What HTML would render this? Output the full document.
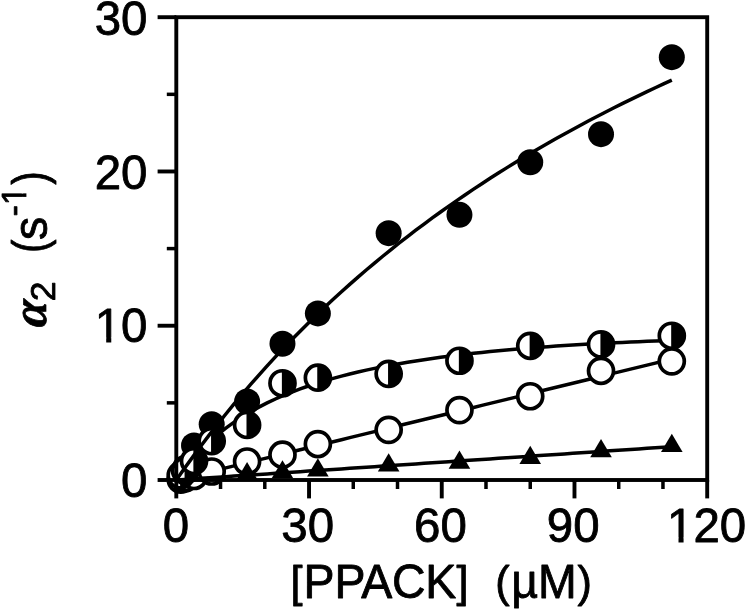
<!DOCTYPE html>
<html lang="en"><head><meta charset="utf-8"><title>PPACK plot</title>
<style>html,body{margin:0;padding:0;background:#fff;}body{width:745px;height:609px;overflow:hidden;}svg{display:block;}</style>
</head><body>
<svg width="745" height="609" viewBox="0 0 745 609">
<rect width="745" height="609" fill="#fff"/>
<defs><filter id="soft" filterUnits="userSpaceOnUse" x="-10" y="-10" width="765" height="629"><feGaussianBlur stdDeviation="0.5"/></filter></defs>
<g filter="url(#soft)">
<rect x="-10" y="-10" width="765" height="629" fill="#fff"/>
<polyline fill="none" stroke="#000" stroke-width="3.5" points="176.30,480.00 184.56,477.98 192.82,475.97 201.08,473.95 209.33,471.94 217.59,469.92 225.85,467.91 234.11,465.89 242.37,463.87 250.63,461.86 258.88,459.84 267.14,457.83 275.40,455.81 283.66,453.80 291.92,451.78 300.18,449.76 308.44,447.75 316.69,445.73 324.95,443.72 333.21,441.70 341.47,439.68 349.73,437.67 357.99,435.65 366.24,433.64 374.50,431.62 382.76,429.61 391.02,427.59 399.28,425.57 407.54,423.56 415.79,421.54 424.05,419.53 432.31,417.51 440.57,415.50 448.83,413.48 457.09,411.46 465.35,409.45 473.60,407.43 481.86,405.42 490.12,403.40 498.38,401.39 506.64,399.37 514.90,397.35 523.15,395.34 531.41,393.32 539.67,391.31 547.93,389.29 556.19,387.28 564.45,385.26 572.71,383.24 580.96,381.23 589.22,379.21 597.48,377.20 605.74,375.18 614.00,373.17 622.26,371.15 630.51,369.13 638.77,367.12 647.03,365.10 655.29,363.09 663.55,361.07 671.81,359.05"/>
<circle cx="180.72" cy="479.54" r="12.5" fill="#fff" stroke="#000" stroke-width="3.7"/>
<circle cx="185.15" cy="478.46" r="12.5" fill="#fff" stroke="#000" stroke-width="3.7"/>
<circle cx="194.00" cy="475.99" r="12.5" fill="#fff" stroke="#000" stroke-width="3.7"/>
<circle cx="211.69" cy="471.52" r="12.5" fill="#fff" stroke="#000" stroke-width="3.7"/>
<circle cx="247.09" cy="461.49" r="12.5" fill="#fff" stroke="#000" stroke-width="3.7"/>
<circle cx="282.48" cy="454.70" r="12.5" fill="#fff" stroke="#000" stroke-width="3.7"/>
<circle cx="317.87" cy="444.06" r="12.5" fill="#fff" stroke="#000" stroke-width="3.7"/>
<circle cx="388.66" cy="429.86" r="12.5" fill="#fff" stroke="#000" stroke-width="3.7"/>
<circle cx="459.45" cy="410.12" r="12.5" fill="#fff" stroke="#000" stroke-width="3.7"/>
<circle cx="530.23" cy="396.23" r="12.5" fill="#fff" stroke="#000" stroke-width="3.7"/>
<circle cx="601.02" cy="370.78" r="12.5" fill="#fff" stroke="#000" stroke-width="3.7"/>
<circle cx="671.81" cy="361.37" r="12.5" fill="#fff" stroke="#000" stroke-width="3.7"/>
<polyline fill="none" stroke="#000" stroke-width="3.5" points="176.30,480.00 184.56,468.75 192.82,458.77 201.08,449.86 209.33,441.86 217.59,434.64 225.85,428.10 234.11,422.15 242.37,416.71 250.63,411.73 258.88,407.15 267.14,402.93 275.40,399.02 283.66,395.41 291.92,392.05 300.18,388.92 308.44,386.00 316.69,383.28 324.95,380.73 333.21,378.34 341.47,376.10 349.73,373.99 357.99,372.01 366.24,370.14 374.50,368.38 382.76,366.71 391.02,365.14 399.28,363.66 407.54,362.25 415.79,360.92 424.05,359.65 432.31,358.45 440.57,357.31 448.83,356.23 457.09,355.20 465.35,354.23 473.60,353.30 481.86,352.41 490.12,351.57 498.38,350.77 506.64,350.00 514.90,349.28 523.15,348.58 531.41,347.92 539.67,347.29 547.93,346.69 556.19,346.11 564.45,345.57 572.71,345.04 580.96,344.55 589.22,344.07 597.48,343.62 605.74,343.19 614.00,342.78 622.26,342.38 630.51,342.01 638.77,341.65 647.03,341.31 655.29,340.99 663.55,340.68 671.81,340.39"/>
<circle cx="180.72" cy="473.83" r="13" fill="#000"/>
<circle cx="185.15" cy="467.66" r="13" fill="#000"/>
<circle cx="194.00" cy="445.44" r="13" fill="#000"/>
<circle cx="211.69" cy="424.16" r="13" fill="#000"/>
<circle cx="247.09" cy="401.48" r="13" fill="#000"/>
<circle cx="282.48" cy="343.78" r="13" fill="#000"/>
<circle cx="317.87" cy="313.39" r="13" fill="#000"/>
<circle cx="388.66" cy="233.17" r="13" fill="#000"/>
<circle cx="459.45" cy="214.82" r="13" fill="#000"/>
<circle cx="530.23" cy="162.21" r="13" fill="#000"/>
<circle cx="601.02" cy="134.13" r="13" fill="#000"/>
<circle cx="671.81" cy="57.16" r="13" fill="#000"/>
<circle cx="180.72" cy="475.37" r="12.5" fill="#fff"/>
<path d="M180.12,462.87 L180.72,462.87 A12.5,12.5 0 0 1 180.72,487.87 L180.12,487.87 Z" fill="#000"/>
<circle cx="180.72" cy="475.37" r="12.5" fill="none" stroke="#000" stroke-width="3.7"/>
<circle cx="185.15" cy="470.74" r="12.5" fill="#fff"/>
<path d="M184.55,458.24 L185.15,458.24 A12.5,12.5 0 0 1 185.15,483.24 L184.55,483.24 Z" fill="#000"/>
<circle cx="185.15" cy="470.74" r="12.5" fill="none" stroke="#000" stroke-width="3.7"/>
<circle cx="194.00" cy="461.03" r="12.5" fill="#fff"/>
<path d="M193.40,448.53 L194.00,448.53 A12.5,12.5 0 0 1 194.00,473.53 L193.40,473.53 Z" fill="#000"/>
<circle cx="194.00" cy="461.03" r="12.5" fill="none" stroke="#000" stroke-width="3.7"/>
<circle cx="211.69" cy="441.12" r="12.5" fill="#fff"/>
<path d="M211.09,428.62 L211.69,428.62 A12.5,12.5 0 0 1 211.69,453.62 L211.09,453.62 Z" fill="#000"/>
<circle cx="211.69" cy="441.12" r="12.5" fill="none" stroke="#000" stroke-width="3.7"/>
<circle cx="247.09" cy="424.93" r="12.5" fill="#fff"/>
<path d="M246.49,412.43 L247.09,412.43 A12.5,12.5 0 0 1 247.09,437.43 L246.49,437.43 Z" fill="#000"/>
<circle cx="247.09" cy="424.93" r="12.5" fill="none" stroke="#000" stroke-width="3.7"/>
<circle cx="282.48" cy="383.27" r="12.5" fill="#fff"/>
<path d="M281.88,370.77 L282.48,370.77 A12.5,12.5 0 0 1 282.48,395.77 L281.88,395.77 Z" fill="#000"/>
<circle cx="282.48" cy="383.27" r="12.5" fill="none" stroke="#000" stroke-width="3.7"/>
<circle cx="317.87" cy="377.72" r="12.5" fill="#fff"/>
<path d="M317.27,365.22 L317.87,365.22 A12.5,12.5 0 0 1 317.87,390.22 L317.27,390.22 Z" fill="#000"/>
<circle cx="317.87" cy="377.72" r="12.5" fill="none" stroke="#000" stroke-width="3.7"/>
<circle cx="388.66" cy="373.86" r="12.5" fill="#fff"/>
<path d="M388.06,361.36 L388.66,361.36 A12.5,12.5 0 0 1 388.66,386.36 L388.06,386.36 Z" fill="#000"/>
<circle cx="388.66" cy="373.86" r="12.5" fill="none" stroke="#000" stroke-width="3.7"/>
<circle cx="459.45" cy="360.75" r="12.5" fill="#fff"/>
<path d="M458.85,348.25 L459.45,348.25 A12.5,12.5 0 0 1 459.45,373.25 L458.85,373.25 Z" fill="#000"/>
<circle cx="459.45" cy="360.75" r="12.5" fill="none" stroke="#000" stroke-width="3.7"/>
<circle cx="530.23" cy="345.79" r="12.5" fill="#fff"/>
<path d="M529.63,333.29 L530.23,333.29 A12.5,12.5 0 0 1 530.23,358.29 L529.63,358.29 Z" fill="#000"/>
<circle cx="530.23" cy="345.79" r="12.5" fill="none" stroke="#000" stroke-width="3.7"/>
<circle cx="601.02" cy="344.40" r="12.5" fill="#fff"/>
<path d="M600.42,331.90 L601.02,331.90 A12.5,12.5 0 0 1 601.02,356.90 L600.42,356.90 Z" fill="#000"/>
<circle cx="601.02" cy="344.40" r="12.5" fill="none" stroke="#000" stroke-width="3.7"/>
<circle cx="671.81" cy="335.76" r="12.5" fill="#fff"/>
<path d="M671.21,323.26 L671.81,323.26 A12.5,12.5 0 0 1 671.81,348.26 L671.21,348.26 Z" fill="#000"/>
<circle cx="671.81" cy="335.76" r="12.5" fill="none" stroke="#000" stroke-width="3.7"/>
<polyline fill="none" stroke="#000" stroke-width="3.5" points="176.30,480.00 184.56,468.30 192.82,456.89 201.08,445.77 209.33,434.92 217.59,424.34 225.85,414.01 234.11,403.93 242.37,394.08 250.63,384.47 258.88,375.07 267.14,365.89 275.40,356.91 283.66,348.14 291.92,339.55 300.18,331.16 308.44,322.94 316.69,314.90 324.95,307.03 333.21,299.32 341.47,291.77 349.73,284.37 357.99,277.13 366.24,270.03 374.50,263.06 382.76,256.24 391.02,249.55 399.28,242.99 407.54,236.55 415.79,230.23 424.05,224.03 432.31,217.95 440.57,211.98 448.83,206.11 457.09,200.35 465.35,194.70 473.60,189.14 481.86,183.68 490.12,178.32 498.38,173.05 506.64,167.87 514.90,162.78 523.15,157.77 531.41,152.85 539.67,148.00 547.93,143.24 556.19,138.56 564.45,133.95 572.71,129.41 580.96,124.94 589.22,120.55 597.48,116.22 605.74,111.97 614.00,107.77 622.26,103.64 630.51,99.58 638.77,95.57 647.03,91.63 655.29,87.74 663.55,83.91 671.81,80.14"/>
<polyline fill="none" stroke="#000" stroke-width="3.5" points="176.30,480.00 184.56,479.44 192.82,478.89 201.08,478.33 209.33,477.78 217.59,477.22 225.85,476.67 234.11,476.11 242.37,475.55 250.63,475.00 258.88,474.44 267.14,473.89 275.40,473.33 283.66,472.77 291.92,472.22 300.18,471.66 308.44,471.11 316.69,470.55 324.95,470.00 333.21,469.44 341.47,468.88 349.73,468.33 357.99,467.77 366.24,467.22 374.50,466.66 382.76,466.11 391.02,465.55 399.28,464.99 407.54,464.44 415.79,463.88 424.05,463.33 432.31,462.77 440.57,462.22 448.83,461.66 457.09,461.10 465.35,460.55 473.60,459.99 481.86,459.44 490.12,458.88 498.38,458.32 506.64,457.77 514.90,457.21 523.15,456.66 531.41,456.10 539.67,455.55 547.93,454.99 556.19,454.43 564.45,453.88 572.71,453.32 580.96,452.77 589.22,452.21 597.48,451.66 605.74,451.10 614.00,450.54 622.26,449.99 630.51,449.43 638.77,448.88 647.03,448.32 655.29,447.77 663.55,447.21 671.81,446.65"/>
<polygon points="247.09,462.00 236.29,480.20 257.89,480.20" fill="#000"/>
<polygon points="282.48,460.15 271.68,478.35 293.28,478.35" fill="#000"/>
<polygon points="317.87,458.30 307.07,476.50 328.67,476.50" fill="#000"/>
<polygon points="388.66,453.21 377.86,471.41 399.46,471.41" fill="#000"/>
<polygon points="459.45,450.43 448.65,468.63 470.25,468.63" fill="#000"/>
<polygon points="530.23,445.81 519.43,464.01 541.03,464.01" fill="#000"/>
<polygon points="601.02,439.02 590.22,457.22 611.82,457.22" fill="#000"/>
<polygon points="671.81,433.77 661.01,451.97 682.61,451.97" fill="#000"/>
<rect x="176.3" y="17.2" width="530.9000000000001" height="462.8" fill="none" stroke="#000" stroke-width="3.9"/>
<line x1="157.6" x2="176.3" y1="480.00" y2="480.00" stroke="#000" stroke-width="3.9"/>
<line x1="166.8" x2="176.3" y1="402.87" y2="402.87" stroke="#000" stroke-width="3.5"/>
<line x1="157.6" x2="176.3" y1="325.73" y2="325.73" stroke="#000" stroke-width="3.9"/>
<line x1="166.8" x2="176.3" y1="248.60" y2="248.60" stroke="#000" stroke-width="3.5"/>
<line x1="157.6" x2="176.3" y1="171.47" y2="171.47" stroke="#000" stroke-width="3.9"/>
<line x1="166.8" x2="176.3" y1="94.33" y2="94.33" stroke="#000" stroke-width="3.5"/>
<line x1="157.6" x2="176.3" y1="17.20" y2="17.20" stroke="#000" stroke-width="3.9"/>
<line y1="480.0" y2="498.4" x1="176.30" x2="176.30" stroke="#000" stroke-width="3.9"/>
<line y1="480.0" y2="489" x1="220.54" x2="220.54" stroke="#000" stroke-width="3.5"/>
<line y1="480.0" y2="489" x1="264.78" x2="264.78" stroke="#000" stroke-width="3.5"/>
<line y1="480.0" y2="498.4" x1="309.03" x2="309.03" stroke="#000" stroke-width="3.9"/>
<line y1="480.0" y2="489" x1="353.27" x2="353.27" stroke="#000" stroke-width="3.5"/>
<line y1="480.0" y2="489" x1="397.51" x2="397.51" stroke="#000" stroke-width="3.5"/>
<line y1="480.0" y2="498.4" x1="441.75" x2="441.75" stroke="#000" stroke-width="3.9"/>
<line y1="480.0" y2="489" x1="485.99" x2="485.99" stroke="#000" stroke-width="3.5"/>
<line y1="480.0" y2="489" x1="530.23" x2="530.23" stroke="#000" stroke-width="3.5"/>
<line y1="480.0" y2="498.4" x1="574.48" x2="574.48" stroke="#000" stroke-width="3.9"/>
<line y1="480.0" y2="489" x1="618.72" x2="618.72" stroke="#000" stroke-width="3.5"/>
<line y1="480.0" y2="489" x1="662.96" x2="662.96" stroke="#000" stroke-width="3.5"/>
<line y1="480.0" y2="498.4" x1="707.20" x2="707.20" stroke="#000" stroke-width="3.9"/>
<g font-family="'Liberation Sans', Arial, Helvetica, sans-serif" font-size="46.5" fill="#000" stroke="#000" stroke-width="0.8" stroke-linejoin="round">
<text transform="translate(147.4,496.90) scale(1.02,1.045)" text-anchor="end">0</text>
<text transform="translate(147.4,342.33) scale(1.02,1.045)" text-anchor="end">10</text>
<text transform="translate(147.4,189.47) scale(1.02,1.045)" text-anchor="end">20</text>
<text transform="translate(147.4,34.70) scale(1.02,1.045)" text-anchor="end">30</text>
<text transform="translate(175.90,541.7) scale(1.02,1.045)" text-anchor="middle">0</text>
<text transform="translate(307.73,541.7) scale(1.02,1.045)" text-anchor="middle">30</text>
<text transform="translate(440.45,541.7) scale(1.02,1.045)" text-anchor="middle">60</text>
<text transform="translate(573.18,541.7) scale(1.02,1.045)" text-anchor="middle">90</text>
<text transform="translate(706.60,541.7) scale(1.02,1.045)" text-anchor="middle">120</text>
<text transform="translate(441,598) scale(1.0,1.045)" xml:space="preserve" x="-150.50 -137.60 -106.60 -79.68 -48.97 -15.69 15.60 28.80 41.70 54.30 70.15 96.93 136.50" dy="-1.05 1.05 0 0 0 0 -1.05 1.05 0 -1.05 1.05 0 -1.05"><tspan font-size="43.25">[</tspan>PPACK<tspan font-size="43.25">]</tspan>  <tspan font-size="43.25">(</tspan>µM<tspan font-size="43.25">)</tspan></text>
<text transform="translate(46.2,328.3) rotate(-90) scale(1.02,1.045) skewX(-7)" font-size="47" font-family="'Liberation Serif', 'DejaVu Serif', serif" font-weight="bold" font-style="italic" stroke-width="0.7">α</text>
<text transform="translate(55.4,301.2) rotate(-90) scale(1.08,1.045)" font-size="33" >2</text>
<text transform="translate(46.3,252.9) rotate(-90) scale(0.87,1.045)" font-size="46.5" >(</text>
<text transform="translate(47.0,240.0) rotate(-90) scale(1.0,1.045)" font-size="46.5" >s</text>
<text transform="translate(24.5,216.3) rotate(-90) scale(1.0,1.045)" font-size="33" >-</text>
<text transform="translate(25.5,205.0) rotate(-90) scale(1.0,1.045)" font-size="33" >1</text>
<text transform="translate(46.3,184.7) rotate(-90) scale(0.87,1.045)" font-size="46.5" >)</text>
</g>
<g fill="#fff">
<rect x="668" y="537.5" width="10.5" height="6.5"/><rect x="683.57" y="537.5" width="9.4" height="6.5"/>
<rect x="95.5" y="337.5" width="10.7" height="6.5"/><rect x="111.27" y="337.5" width="9.3" height="6.5"/>
<rect x="21.7" y="186" width="6.1" height="7.38"/><rect x="21.7" y="196.93" width="6.1" height="6.6"/>
</g>
</g>
</svg>
</body></html>
